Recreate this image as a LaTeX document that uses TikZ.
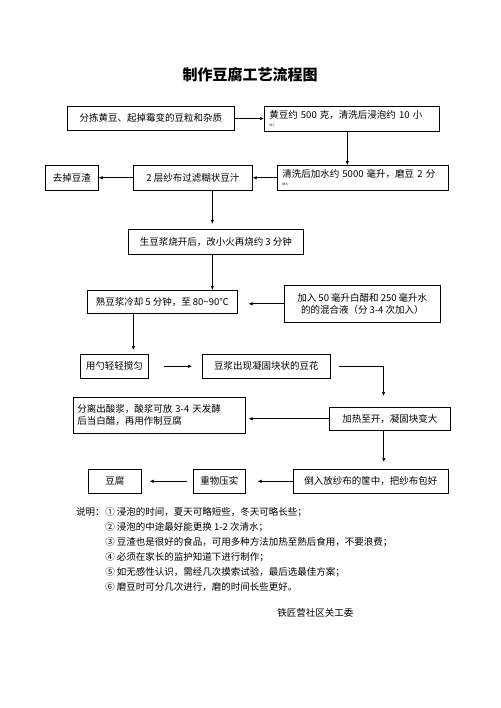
\documentclass[tikz,border=0pt]{standalone}
\usepackage{fontspec}
\setmainfont{Noto Sans CJK SC}
\usepackage{xcolor}
\usepackage{tikz}
\usetikzlibrary{arrows.meta, positioning}

\tikzset{
  box/.style={draw, rectangle, anchor=north west, inner sep=0pt, line width=0.6pt, font=\fontsize{9.5}{12}\selectfont},
  note/.style={anchor=west, inner sep=0pt, font=\fontsize{9.5}{12}\selectfont},
}

\begin{document}
\begin{tikzpicture}[x=1pt, y=-1pt, >={Latex[length=4pt,width=3.5pt]}, line width=0.7pt]
        \useasboundingbox (0,0) rectangle (500,708);
        \node[inner sep=0pt, font=\fontsize{15}{15}\selectfont\bfseries] (title) at (250,75) {制作豆腐工艺流程图};

        \node[box, minimum width=167, minimum height=24] (b1) at (67,106) {分拣黄豆、起掉霉变的豆粒和杂质};
        \node[box, minimum width=175, minimum height=25, align=left, text width=165, inner xsep=5pt] (b2) at (264,106)
              {黄豆约 500 克，清洗后浸泡约 10 小\\[-4pt]{\fontsize{3}{3}\selectfont 时①}};
        \node[box, minimum width=171, minimum height=25, align=left, text width=161, inner xsep=5pt] (b3) at (277,165)
              {清洗后加水约 5000 毫升，磨豆 2 分\\[-4pt]{\fontsize{3}{3}\selectfont 钟⑥}};
        \node[box, minimum width=119, minimum height=25] (b4) at (133,165) {2 层纱布过滤糊状豆汁};
        \node[box, minimum width=53, minimum height=25] (b5) at (45,165) {去掉豆渣};
        \node[box, minimum width=175, minimum height=25] (b6) at (128,229) {生豆浆烧开后，改小火再烧约 3 分钟};
        \node[box, minimum width=150, minimum height=23] (b7) at (87,290) {熟豆浆冷却 5 分钟，至 80\textasciitilde 90℃};
        \node[box, minimum width=156, minimum height=37, align=center] (b8) at (284,285)
              {加入 50 毫升白醋和 250 毫升水\\的的混合液（分 3-4 次加入）};
        \node[box, minimum width=68, minimum height=24] (b9) at (80,354) {用勺轻轻搅匀};
        \node[box, minimum width=128, minimum height=24] (b10) at (202,354) {豆浆出现凝固块状的豆花};
        \node[box, minimum width=121, minimum height=23] (b11) at (329,407) {加热至开，凝固块变大};
        \node[box, minimum width=172, minimum height=36, align=left, text width=164, inner xsep=4pt] (b12) at (73,397)
              {分离出酸浆，酸浆可放 3-4 天发酵\\后当白醋，再用作制豆腐};
        \node[box, minimum width=155, minimum height=24] (b13) at (293,469) {倒入放纱布的筐中，把纱布包好};
        \node[box, minimum width=52, minimum height=24] (b14) at (193,469) {重物压实};
        \node[box, minimum width=53, minimum height=24] (b15) at (88,469) {豆腐};

        \coordinate (c1) at (383.5,366.5);
        \coordinate (c2) at (383.5,396);

        \path[->]
        (b1) edge (b2)
        ([xshift=-4.5]b2.south) edge ([xshift=-4.5]b2.south |- b3.north)
        (b3) edge (b4)
        (b4) edge (b5)
        ([xshift=19.5]b4.south) edge[shorten >=5pt] ([xshift=19.5]b4.south |- b6.north)
        ([xshift=-3.5]b6.south) edge ([xshift=-3.5]b6.south |- b7.north)
        (b8.west) edge[shorten >=11pt] (b8.west -| b7.east)
        ([xshift=-29]b7.south) edge[shorten >=4pt] ([xshift=-29]b7.south |- b9.north)
        (b9) edge[shorten <=15pt, shorten >=10pt] (b10)
        (b11.west) edge[shorten >=3pt] (b11.west -| b12.east)
        ([xshift=-6]b11.south) edge[shorten >=7pt] ([xshift=-6]b11.south |- b13.north)
        (b13) edge[shorten >=12pt] (b14)
        (b14) edge[shorten <=6pt, shorten >=8pt] (b15);

        \draw[->] ([xshift=8]b10.east |- c1) -- (c1) -- (c2);

        \node[note, anchor=east] (lead) at (105,512) {说明：};
        \node[note] (n1) at (105,512) {① 浸泡的时间，夏天可略短些，冬天可略长些；};
        \node[note] (n2) at (105,527) {② 浸泡的中途最好能更换 1-2 次清水；};
        \node[note] (n3) at (105,542) {③ 豆渣也是很好的食品，可用多种方法加热至熟后食用，不要浪费；};
        \node[note] (n4) at (105,557) {④ 必须在家长的监护知道下进行制作；};
        \node[note] (n5) at (105,572) {⑤ 如无感性认识，需经几次摸索试验，最后选最佳方案；};
        \node[note] (n6) at (105,587) {⑥ 磨豆时可分几次进行，磨的时间长些更好。};
        \node[note] (sign) at (277,613) {铁匠营社区关工委};
    \end{tikzpicture}
\end{document}
